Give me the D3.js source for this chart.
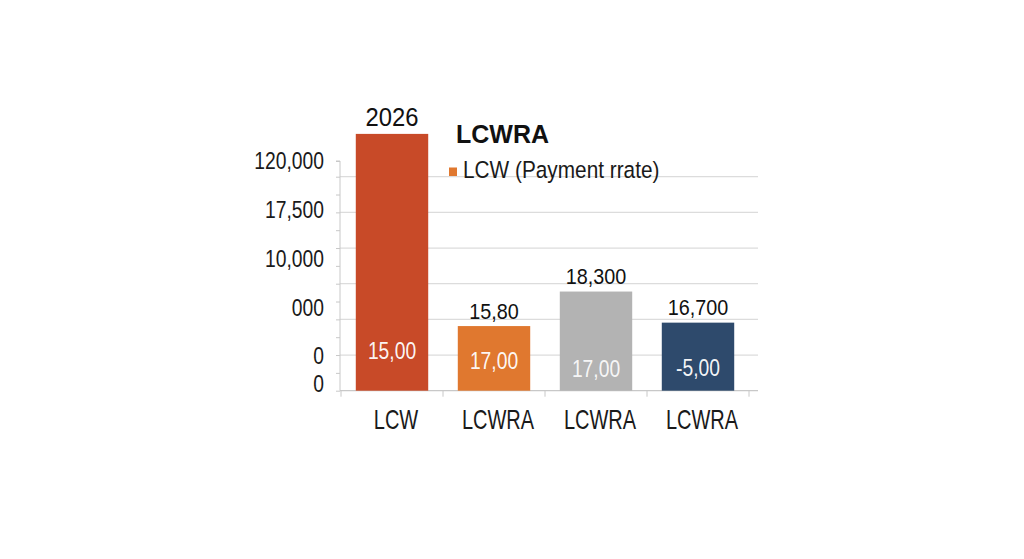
<!DOCTYPE html>
<html><head><meta charset="utf-8">
<script src="https://cdn.jsdelivr.net/npm/d3@7"></script>
<style>
html,body{margin:0;padding:0;background:#fff;}
svg{display:block;font-family:"Liberation Sans",Arial,sans-serif;}
</style></head>
<body><svg id="c" width="1024" height="559"></svg>
<script>
// ---- data ----
const categories = ["LCW", "LCWRA", "LCWRA", "LCWRA"];
const values = [18000, 4530, 6950, 4770];
const topLabels = ["2026", "15,80", "18,300", "16,700"];
const innerLabels = ["15,00", "17,00", "17,00", "-5,00"];
const barColors = ["#C84A28", "#E0782F", "#B3B3B3", "#2E4A6C"];
const yTickLabels = ["120,000", "17,500", "10,000", "000", "0", "0"];
const yTickLabelValues = [16050, 12620, 9160, 5725, 2400, 400];
const minorTickValues = [0,1250,2500,3750,5000,6250,7500,8750,10000,11250,12500,13750,15000,16100];
const gridValues = [2500,5000,7500,10000,12500,15000];
const title = "LCWRA";
const legendLabel = "LCW (Payment rrate)";

// ---- layout ----
const innerLift = [32, 22, 13.5, 15];
const svg = d3.select("#c");
const x0 = 341, x1 = 749, gridRight = 758;
const y = d3.scaleLinear().domain([0, 16100]).range([390.7, 161]);
const x = d3.scaleBand().domain(d3.range(categories.length)).range([x0, x1])
  .paddingInner(0.29).paddingOuter(0.145);

// gridlines
svg.append("g").selectAll("line").data(gridValues).join("line")
  .attr("x1", 340).attr("x2", gridRight)
  .attr("y1", d => y(d)).attr("y2", d => y(d))
  .attr("stroke", "#dcdcdc").attr("stroke-width", 1.2);

// y axis with minor ticks
const yAxis = svg.append("g").attr("transform", "translate(340,0)")
  .call(d3.axisLeft(y).tickValues(minorTickValues).tickSize(4).tickFormat(""));
yAxis.select(".domain").attr("stroke", "#c8c8c8").attr("d", `M-4,${y(16100)}H0V${y(0)}`);
yAxis.selectAll(".tick line").attr("stroke", "#c8c8c8");

// y tick labels (slightly tall type)
const yLab = svg.append("g").attr("transform", "translate(340,0)")
  .call(d3.axisLeft(y).tickValues(yTickLabelValues).tickSize(0).tickPadding(16)
    .tickFormat((d, i) => yTickLabels[i]));
yLab.select(".domain").remove();
yLab.selectAll("text").attr("font-size", 19.3).attr("fill", "#1a1a1a")
  .attr("font-family", "'Liberation Sans',Arial,sans-serif")
  .attr("transform", "scale(1,1.2)")
  .attr("dy", "0.3em");

// x baseline
svg.append("line").attr("x1", 340).attr("x2", gridRight)
  .attr("y1", y(0)).attr("y2", y(0)).attr("stroke", "#c8c8c8").attr("stroke-width", 1.2);
// x boundary ticks
svg.append("g").selectAll("line").data(d3.range(categories.length + 1)).join("line")
  .attr("x1", i => x0 + i * x.step()).attr("x2", i => x0 + i * x.step())
  .attr("y1", y(0)).attr("y2", y(0) + 6).attr("stroke", "#c8c8c8");

// bars
svg.append("g").selectAll("rect").data(values).join("rect")
  .attr("x", (d, i) => x(i)).attr("width", x.bandwidth())
  .attr("y", d => y(d)).attr("height", d => y(0) - y(d))
  .attr("fill", (d, i) => barColors[i]);

// top labels
svg.append("g").selectAll("text").data(values).join("text")
  .attr("transform", (d, i) => `translate(${x(i) + x.bandwidth() / 2},${y(d) - 7.5}) scale(1,${i === 0 ? 1.05 : 1.1})`)
  .attr("text-anchor", "middle")
  .attr("font-size", (d, i) => i === 0 ? 23.8 : 19.8)
  .attr("fill", "#111")
  .text((d, i) => topLabels[i]);

// inner labels
svg.append("g").selectAll("text").data(values).join("text")
  .attr("transform", (d, i) => `translate(${x(i) + x.bandwidth() / 2},${y(0) - innerLift[i]}) scale(1,1.2)`)
  .attr("text-anchor", "middle")
  .attr("font-size", 19.3)
  .attr("fill", "#fff")
  .attr("fill-opacity", (d, i) => i === 2 ? 0.9 : 0.96)
  .text((d, i) => innerLabels[i]);

// x labels (tall)
svg.append("g").selectAll("text").data(categories).join("text")
  .attr("transform", (d, i) => `translate(${x(i) + x.bandwidth() / 2 + 4},428.5) scale(1,1.38)`)
  .attr("text-anchor", "middle")
  .attr("font-size", 20)
  .attr("fill", "#1a1a1a")
  .text(d => d);

// title
svg.append("text").attr("x", 456).attr("y", 143.3)
  .attr("font-size", 25).attr("font-weight", "bold").attr("fill", "#111").text(title);

// legend
svg.append("rect").attr("x", 449).attr("y", 167.5).attr("width", 8).attr("height", 8.5)
  .attr("fill", barColors[1]);
svg.append("text").attr("transform", "translate(463,178) scale(1,1.12)")
  .attr("font-size", 20.8).attr("fill", "#1a1a1a").text(legendLabel);
</script></body></html>
